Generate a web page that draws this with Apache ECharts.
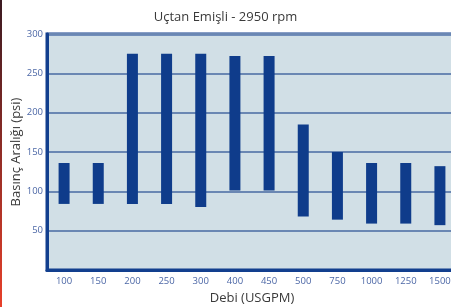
<!DOCTYPE html>
<html>
<head>
<meta charset="utf-8">
<script src="https://cdn.jsdelivr.net/npm/echarts@6/dist/echarts.min.js"></script>
<style>
html, body { margin: 0; padding: 0; background: #fff; }
#chart { width: 451px; height: 307px; }
</style>
</head>
<body>
<div id="chart"></div>
<script>
var categories = ['100', '150', '200', '250', '300', '400', '450', '500', '750', '1000', '1250', '1500'];
var lowValues = [84, 84, 84, 84, 80, 101, 101, 68, 64, 59, 59, 57];
var highValues = [136, 136, 275, 275, 275, 272, 272, 185, 150, 136, 136, 132];
var yTicks = [50, 100, 150, 200, 250, 300];

// bar = transparent base + visible range on top
var rangeValues = [];
for (var i = 0; i < highValues.length; i++) {
    rangeValues.push(highValues[i] - lowValues[i]);
}

var chart = echarts.init(document.getElementById('chart'));
var option = {
    animation: false,
    title: {
        text: 'Uçtan Emişli - 2950 rpm',
        left: 'center',
        top: 6,
        textStyle: { fontFamily: 'Open Sans', fontSize: 13, fontWeight: 'normal', color: '#3a3a3a' }
    },
    graphic: [{
        type: 'rect',
        shape: { x: 0, y: 0, width: 2, height: 307 },
        style: {
            fill: new echarts.graphic.LinearGradient(0, 0, 0, 1, [
                { offset: 0, color: '#3a1a22' },
                { offset: 1, color: '#e8402a' }
            ])
        }
    }],
    grid: {
        left: 47, right: -6, top: 34, bottom: 37,
        outerBoundsMode: 'none',
        containLabel: false,
        show: true,
        backgroundColor: '#d1dfe6',
        borderColor: '#123f8e',
        borderWidth: 3
    },
    xAxis: {
        type: 'category',
        data: categories,
        name: 'Debi (USGPM)',
        nameLocation: 'middle',
        nameGap: 22,
        nameTextStyle: { fontFamily: 'Open Sans', fontSize: 13, color: '#3a3a3a' },
        axisLine: { show: true, lineStyle: { color: '#123f8e', width: 3 } },
        axisTick: { show: false },
        axisLabel: { fontFamily: 'Open Sans', fontSize: 9.5, color: '#4c67a6', margin: 6 }
    },
    yAxis: {
        type: 'value',
        min: 0,
        max: 300,
        interval: 50,
        name: 'Basınç Aralığı (psi)',
        nameLocation: 'middle',
        nameGap: 24,
        nameMoveOverlap: false,
        nameTextStyle: { fontFamily: 'Open Sans', fontSize: 13, color: '#3a3a3a' },
        axisLine: { show: true, lineStyle: { color: '#123f8e', width: 3 } },
        axisTick: { show: false },
        axisLabel: {
            fontFamily: 'Open Sans', fontSize: 9.5, color: '#4c67a6', margin: 4,
            formatter: function (v) { return yTicks.indexOf(v) >= 0 ? String(v) : ''; }
        },
        splitLine: { show: true, lineStyle: { color: '#6a87b3', width: 2 } }
    },
    series: [
        {
            name: 'base',
            type: 'bar',
            stack: 'range',
            data: lowValues,
            barWidth: 11,
            itemStyle: { color: 'transparent' },
            silent: true
        },
        {
            name: 'range',
            type: 'bar',
            stack: 'range',
            data: rangeValues,
            barWidth: 11,
            itemStyle: { color: '#0f3c8b' }
        }
    ]
};
option && chart.setOption(option);
</script>
</body>
</html>
